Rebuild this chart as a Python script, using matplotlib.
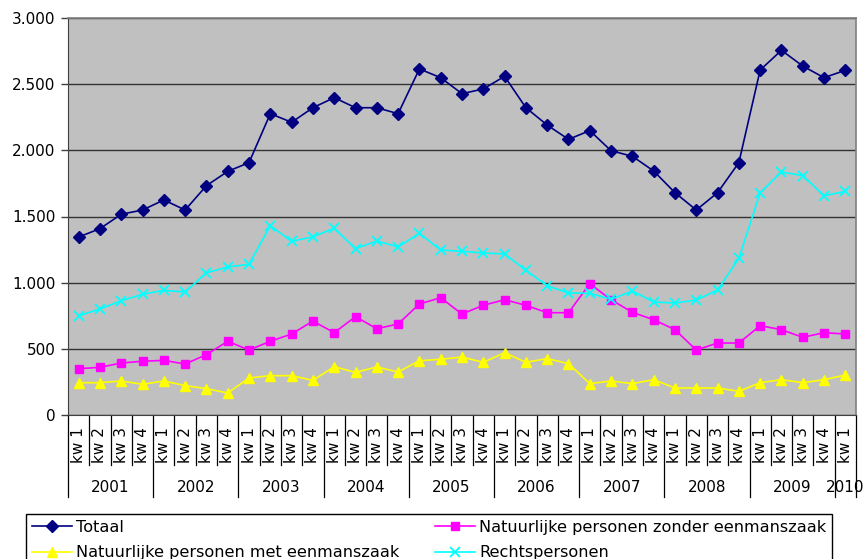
import numpy as np
import matplotlib
matplotlib.use("Agg")
import matplotlib.pyplot as plt
from matplotlib.transforms import blended_transform_factory

# ---------------------------------------------------------------------------
# Data: quarterly counts, 2001 kw1 .. 2010 kw1
# ---------------------------------------------------------------------------

years = ["2001", "2002", "2003", "2004", "2005", "2006", "2007", "2008", "2009", "2010"]
quarter_labels = ["kw 1", "kw 2", "kw 3", "kw 4"] * 9 + ["kw 1"]

totaal = [1345, 1408, 1517, 1549, 1625, 1549, 1733, 1841, 1907, 2277,
          2212, 2322, 2398, 2322, 2322, 2277, 2615, 2549, 2428, 2464,
          2559, 2322, 2191, 2083, 2149, 1997, 1955, 1844, 1680, 1549,
          1680, 1907, 2607, 2756, 2637, 2549, 2605]

zonder_eenmanszaak = [350, 360, 393, 406, 413, 385, 456, 557, 491, 557,
                      612, 710, 622, 743, 652, 688, 839, 886, 763, 829,
                      871, 829, 773, 773, 992, 871, 776, 720, 645, 491,
                      544, 544, 675, 645, 587, 622, 612]

met_eenmanszaak = [244, 244, 257, 232, 257, 222, 199, 166, 280, 297,
                   297, 262, 365, 322, 363, 325, 410, 421, 438, 398,
                   471, 398, 426, 388, 237, 257, 237, 267, 204, 204,
                   204, 179, 244, 267, 244, 267, 302]

rechtspersonen = [750, 801, 864, 912, 942, 929, 1075, 1118, 1139, 1431,
                  1312, 1347, 1411, 1257, 1315, 1270, 1373, 1247, 1237, 1224,
                  1217, 1093, 977, 922, 920, 874, 937, 854, 846, 869,
                  945, 1184, 1680, 1836, 1809, 1657, 1690]

y_ticks = [0, 500, 1000, 1500, 2000, 2500, 3000]
y_tick_labels = ["0", "500", "1.000", "1.500", "2.000", "2.500", "3.000"]

# ---------------------------------------------------------------------------
# Figure
# ---------------------------------------------------------------------------

W, H = 866, 559
FS = 11
FS_LEG = 11.6
plt.rcParams["font.family"] = "DejaVu Sans"

fig = plt.figure(figsize=(W / 100, H / 100), dpi=100)
left, right, top, bottom = 68, 856, 18, 415
ax = fig.add_axes([left / W, 1 - bottom / H, (right - left) / W, (bottom - top) / H])
ax.set_facecolor("#c0c0c0")

n = len(totaal)
x = np.arange(n) + 0.5

series = [
    ("Totaal", totaal, "#000080", "D", 6.2, {}),
    ("Natuurlijke personen zonder eenmanszaak", zonder_eenmanszaak, "#ff00ff", "s", 5.8, {}),
    ("Natuurlijke personen met eenmanszaak", met_eenmanszaak, "#ffff00", "^", 7.2, {}),
    ("Rechtspersonen", rechtspersonen, "#00ffff", "x", 7.0, {"mew": 1.3}),
]
handles = {}
for label, vals, color, marker, ms, extra in series:
    h, = ax.plot(x, vals, color=color, lw=1.2, marker=marker, ms=ms,
                 mfc=color, mec=color, label=label, zorder=3, **extra)
    handles[label] = h

ax.set_xlim(0, n)
ax.set_ylim(0, 3000)
ax.set_yticks(y_ticks)
ax.set_yticklabels(y_tick_labels, fontsize=FS)
ax.tick_params(axis="y", direction="out", length=5, width=1, color="#404040", pad=4)
ax.set_xticks([])
ax.grid(axis="y", color="#333333", lw=1.0, zorder=1)
ax.set_axisbelow(True)

for side in ["top", "right"]:
    ax.spines[side].set_color("#808080")
    ax.spines[side].set_linewidth(1.2)
ax.spines["left"].set_color("#404040")
ax.spines["bottom"].set_color("#404040")

# ---------------------------------------------------------------------------
# Two-level category axis (quarters / years)
# ---------------------------------------------------------------------------

tr = blended_transform_factory(ax.transData, fig.transFigure)
y_axis = 1 - bottom / H
y_q_end = 1 - 465 / H
y_year_end = 1 - 497 / H

for b in range(n + 1):
    long_line = (b % 4 == 0) or b == n
    y_end = y_year_end if long_line else y_q_end
    ax.plot([b, b], [y_axis, y_end], color="black", lw=0.9,
            transform=tr, clip_on=False)

for i, ql in enumerate(quarter_labels):
    ax.text(i + 0.5, 1 - 445 / H, ql, transform=tr, rotation=90,
            ha="center", va="center", fontsize=FS)

for k, yr in enumerate(years):
    start = 4 * k
    stop = min(start + 4, n)
    ax.text((start + stop) / 2, 1 - 487 / H, yr, transform=tr,
            ha="center", va="center", fontsize=FS)

# ---------------------------------------------------------------------------
# Legend (bottom edge runs past the figure)
# ---------------------------------------------------------------------------

order = ["Totaal", "Natuurlijke personen met eenmanszaak",
         "Natuurlijke personen zonder eenmanszaak", "Rechtspersonen"]
leg = fig.legend([handles[k] for k in order], order, ncol=2,
                 loc="upper left", mode="expand",
                 bbox_to_anchor=(26 / W, 1 - 514 / H, (832 - 26) / W, 0.0),
                 fontsize=FS_LEG, frameon=True, fancybox=False,
                 edgecolor="black", framealpha=1, borderpad=0.36,
                 labelspacing=0.66, handlelength=2.5, handletextpad=0.25,
                 borderaxespad=0.0)
leg.get_frame().set_linewidth(1.0)

fig.savefig("out.png", dpi=100)
